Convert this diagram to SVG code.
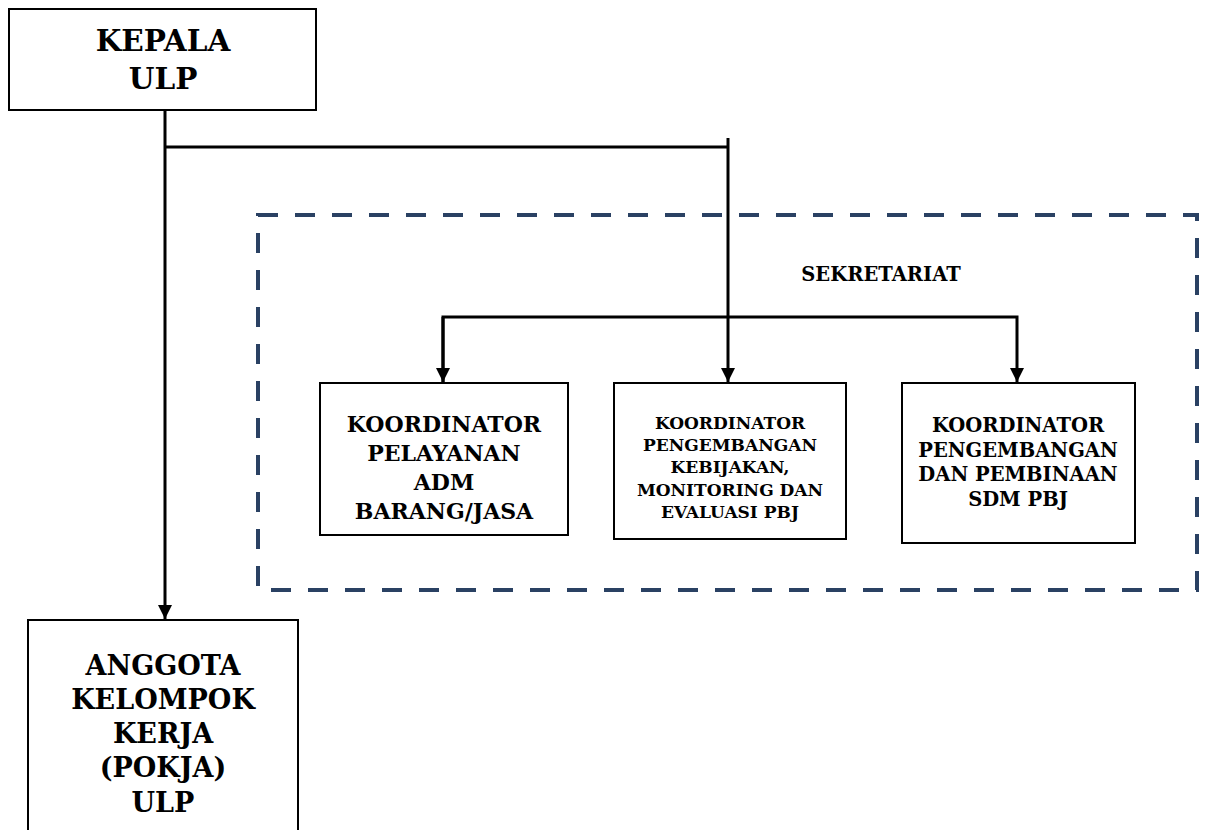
<svg xmlns="http://www.w3.org/2000/svg" width="1205" height="830" viewBox="0 0 1205 830">
<defs>
<style>
.box{fill:#fff;stroke:#000;stroke-width:2}
.t{font-family:"DejaVu Serif","Liberation Serif",serif;font-weight:bold;fill:#000;text-anchor:middle}
.ln{fill:none;stroke:#000;stroke-width:3}
</style>
<marker id="ah" viewBox="0 0 14 14" refX="14" refY="7" markerWidth="14" markerHeight="14" markerUnits="userSpaceOnUse" orient="auto">
<path d="M0,0 L14,7 L0,14 Z" fill="#000"/>
</marker>
</defs>
<rect width="1205" height="830" fill="#fff"/>
<g id="sekretariat">
<rect x="258" y="215" width="939" height="375" fill="none" stroke="#2a4163" stroke-width="4" stroke-dasharray="20 17"/>
<text class="t" x="881" y="281" font-size="19.5">SEKRETARIAT</text>
</g>
<g id="connectors">
<path class="ln" d="M165,110 V619" marker-end="url(#ah)"/>
<path class="ln" d="M165,147 H728"/>
<path class="ln" d="M728,138 V382" marker-end="url(#ah)"/>
<path class="ln" d="M443,382 V317 H1017 V382" marker-end="url(#ah)"/>
<path class="ln" d="M443,317 V382" marker-end="url(#ah)"/>
</g>
<g id="kepala">
<rect class="box" x="9" y="9" width="307" height="101"/>
<text class="t" x="163" y="51" font-size="29.5">KEPALA</text>
<text class="t" x="163" y="89" font-size="29.5">ULP</text>
</g>
<g id="koord1">
<rect class="box" x="320" y="383" width="248" height="152"/>
<text class="t" font-size="22"><tspan x="444" y="432">KOORDINATOR</tspan><tspan x="444" y="461">PELAYANAN</tspan><tspan x="444" y="490">ADM</tspan><tspan x="444" y="519">BARANG/JASA</tspan></text>
</g>
<g id="koord2">
<rect class="box" x="614" y="383" width="232" height="156"/>
<text class="t" font-size="17"><tspan x="730" y="429">KOORDINATOR</tspan><tspan x="730" y="451">PENGEMBANGAN</tspan><tspan x="730" y="473">KEBIJAKAN,</tspan><tspan x="730" y="496">MONITORING DAN</tspan><tspan x="730" y="518">EVALUASI PBJ</tspan></text>
</g>
<g id="koord3">
<rect class="box" x="902" y="383" width="233" height="160"/>
<text class="t" font-size="19.5"><tspan x="1018" y="432">KOORDINATOR</tspan><tspan x="1018" y="457">PENGEMBANGAN</tspan><tspan x="1018" y="481">DAN PEMBINAAN</tspan><tspan x="1018" y="506">SDM PBJ</tspan></text>
</g>
<g id="anggota">
<rect class="box" x="28" y="620" width="270" height="220"/>
<text class="t" font-size="27"><tspan x="163" y="675">ANGGOTA</tspan><tspan x="163" y="709">KELOMPOK</tspan><tspan x="163" y="743">KERJA</tspan><tspan x="163" y="777">(POKJA)</tspan><tspan x="163" y="812">ULP</tspan></text>
</g>
</svg>
